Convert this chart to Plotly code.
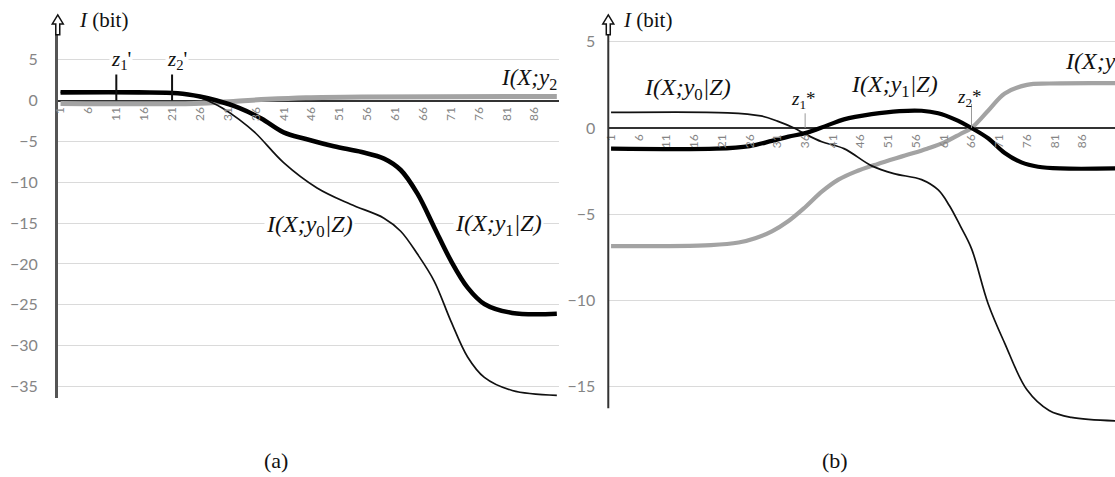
import plotly.graph_objects as go

W, H = 1115, 477

# ---------------- data (category index, value in bit) ----------------
# panel (a)
a_y0_cat = [1, 10, 20, 25, 28, 30, 33, 36, 41, 47, 53, 59, 62, 65, 68, 71, 74, 77, 82, 90]
a_y0_val = [1.0, 1.0, 0.95, 0.6, -0.2, -0.9, -2.3, -4.0, -7.6, -10.7, -12.7, -14.4, -16.0, -18.8, -22.1, -27.0, -31.4, -33.9, -35.5, -36.1]

a_y1_cat = [1, 15, 22, 26, 29, 33, 37, 41, 45, 50, 55, 59, 62, 65, 68, 71, 74, 77, 82, 90]
a_y1_val = [1.0, 1.0, 0.9, 0.5, 0.0, -0.9, -2.2, -3.9, -4.7, -5.6, -6.3, -7.1, -8.5, -11.4, -15.5, -19.6, -22.9, -24.9, -26.0, -26.1]

a_y2_cat = [1, 25, 32, 38, 45, 55, 90]
a_y2_val = [-0.35, -0.35, -0.1, 0.15, 0.35, 0.45, 0.5]

# panel (b)
b_y0_cat = [1, 22, 28, 31, 34, 36, 39, 43, 48, 52, 57, 60, 62, 64, 66, 69, 72, 76, 80, 84, 92]
b_y0_val = [0.9, 0.88, 0.7, 0.4, 0.0, -0.35, -0.8, -1.2, -2.2, -2.65, -3.0, -3.6, -4.5, -5.7, -7.0, -10.2, -12.5, -15.2, -16.4, -16.8, -17.0]

b_y1_cat = [1, 20, 26, 30, 33, 36, 40, 43, 48, 53, 57, 60, 63, 66, 69, 72, 75, 78, 82, 92]
b_y1_val = [-1.2, -1.2, -1.05, -0.75, -0.5, -0.3, 0.15, 0.5, 0.8, 0.98, 1.0, 0.85, 0.5, 0.0, -0.6, -1.45, -2.0, -2.25, -2.35, -2.35]

b_y2_cat = [1, 19, 24, 27, 30, 33, 36, 39, 42, 45, 49, 54, 58, 61, 64, 66, 69, 72, 76, 80, 92]
b_y2_val = [-6.86, -6.8, -6.65, -6.4, -6.0, -5.4, -4.6, -3.7, -3.0, -2.55, -2.1, -1.6, -1.2, -0.85, -0.35, 0.0, 1.0, 2.0, 2.5, 2.58, 2.6]

x_ticks = [1, 6, 11, 16, 21, 26, 31, 36, 41, 46, 51, 56, 61, 66, 71, 76, 81, 86, 91]
a_yticks = [5, 0, -5, -10, -15, -20, -25, -30, -35]
b_yticks = [5, 0, -5, -10, -15]

a_marks = [(11, "1", "'"), (21, "2", "'")]
b_marks = [(36, "1", "*"), (66, "2", "*")]

# ---------------- geometry ----------------
def px(x):
    return x / W

def py(y):
    return 1 - y / H

a_xdom = [px(53), px(556)]
b_xdom = [px(606), 1.0]
a_ydom = [py(398), py(32)]
b_ydom = [py(435), py(32)]
a_xr = [0.5, 90.3]
b_xr = [0.5, 91.88]
a_yr = [(99 - 398) / 8.2, (99 - 32) / 8.2]
b_yr = [(126.5 - 435) / 17.3, (126.5 - 32) / 17.3]
b_axis_bottom = (126.5 - 408) / 17.3


def zero_pos(dom, rng):
    return dom[0] + (0 - rng[0]) / (rng[1] - rng[0]) * (dom[1] - dom[0])


GRAY = "#a3a3a3"
TICK = "#858585"

fig = go.Figure()

def add_line(cat, val, xa, ya, color, width):
    fig.add_trace(go.Scatter(x=cat, y=val, xaxis=xa, yaxis=ya, mode="lines",
                             line=dict(color=color, width=width, shape="spline", smoothing=1.0),
                             showlegend=False, hoverinfo="skip"))

add_line(a_y2_cat, a_y2_val, "x", "y", GRAY, 5)
add_line(a_y0_cat, a_y0_val, "x", "y", "#111111", 1.7)
add_line(a_y1_cat, a_y1_val, "x", "y", "#000000", 4.6)

add_line(b_y2_cat, b_y2_val, "x2", "y2", GRAY, 4.2)
add_line(b_y0_cat, b_y0_val, "x2", "y2", "#111111", 1.7)
add_line(b_y1_cat, b_y1_val, "x2", "y2", "#000000", 4.2)

xcommon = dict(showgrid=False, zeroline=False, showline=False, ticks="",
               tickmode="array", tickvals=x_ticks, ticktext=[str(t) for t in x_ticks],
               tickangle=-90, tickfont=dict(family="Lato", size=12, color=TICK),
               ticklabelstandoff=3)
ycommon = dict(showgrid=True, gridcolor="#dadada", gridwidth=1.3,
               zeroline=True, zerolinecolor="#333333", zerolinewidth=2,
               ticks="", tickfont=dict(family="Lato", size=16, color=TICK),
               ticklabelstandoff=14)

fig.update_layout(
    width=W, height=H, margin=dict(l=0, r=0, t=0, b=0),
    paper_bgcolor="white", plot_bgcolor="white",
    xaxis=dict(domain=a_xdom, range=a_xr, anchor="free", position=zero_pos(a_ydom, a_yr), **xcommon),
    yaxis=dict(domain=a_ydom, range=a_yr, anchor="x", tickvals=a_yticks,
               showline=True, linecolor="#555555", linewidth=2.5, **ycommon),
    xaxis2=dict(domain=b_xdom, range=b_xr, anchor="free", position=zero_pos(b_ydom, b_yr), **xcommon),
    yaxis2=dict(domain=b_ydom, range=b_yr, anchor="x2", tickvals=b_yticks,
                showline=False, **ycommon),
)
fig.layout.yaxis2.ticklabelstandoff = 12

SERIF = "Liberation Serif"
ann = []

def label(x, y, text, xref, yref, size=24, xanchor="center", bg=None):
    d = dict(x=x, y=y, xref=xref, yref=yref, text=text, showarrow=False,
             xanchor=xanchor, yanchor="middle",
             font=dict(family=SERIF, size=size, color="#111111"))
    if bg:
        d.update(bgcolor=bg, borderpad=1)
    ann.append(d)

def itext(sub, tail="|Z)"):
    return "<i>I(X;y</i><sub>" + sub + "</sub><i>" + tail + "</i>"

# panel (a) texts
label(px(306), py(225), itext("0"), "paper", "paper", bg="white")
label(px(496), py(224), itext("1"), "paper", "paper", bg="white")
label(px(556), py(77), itext("2", ""), "paper", "paper", size=23, xanchor="right")
label(px(72), py(18), "<i>I</i> (bit)", "paper", "paper", size=21, xanchor="left")
label(px(272), py(460), "(a)", "paper", "paper", size=22)

# panel (b) texts
label(px(686), py(87), itext("0"), "paper", "paper")
label(px(894), py(84), itext("1"), "paper", "paper")
label(px(1063), py(61), itext("2"), "paper", "paper", xanchor="left")
label(px(619), py(18), "<i>I</i> (bit)", "paper", "paper", size=21, xanchor="left")
label(px(834), py(460), "(b)", "paper", "paper", size=22)

shapes = []
for c, s, m in a_marks:
    shapes.append(dict(type="line", xref="x", yref="y", x0=c, x1=c, y0=0, y1=3.5,
                       line=dict(color="#111111", width=2)))
    label(c + 0.9, 5, "<i>z</i><sub>" + s + "</sub>" + m, "x", "y", size=21, bg="white")
for c, s, m in b_marks:
    shapes.append(dict(type="line", xref="x2", yref="y2", x0=c, x1=c, y0=0,
                       y1=0.85 if c < 50 else 1.4,
                       line=dict(color="#999999", width=1)))
    label(c - 0.3, 1.65 if c < 50 else 1.75, "<i>z</i><sub>" + s + "</sub>" + m, "x2", "y2", size=19)

# y axis line of panel (b) (stops at the axis bottom, curves may run below it)
shapes.append(dict(type="line", xref="x2 domain", yref="y2", x0=0, x1=0,
                   y0=b_axis_bottom, y1=b_yr[1], line=dict(color="#333333", width=2)))

# hollow arrow heads on the y axes
def arrow(cx):
    pts = [(cx, 13), (cx + 5.5, 22), (cx + 2, 22), (cx + 2, 33), (cx - 2, 33), (cx - 2, 22), (cx - 5.5, 22)]
    path = "M " + " L ".join(f"{px(x):.5f},{py(y):.5f}" for x, y in pts) + " Z"
    return dict(type="path", xref="paper", yref="paper", path=path,
                fillcolor="white", line=dict(color="#111111", width=1.5))

shapes.append(arrow(53))
shapes.append(arrow(606))

fig.update_layout(annotations=ann, shapes=shapes)
fig.write_html("out.html")
